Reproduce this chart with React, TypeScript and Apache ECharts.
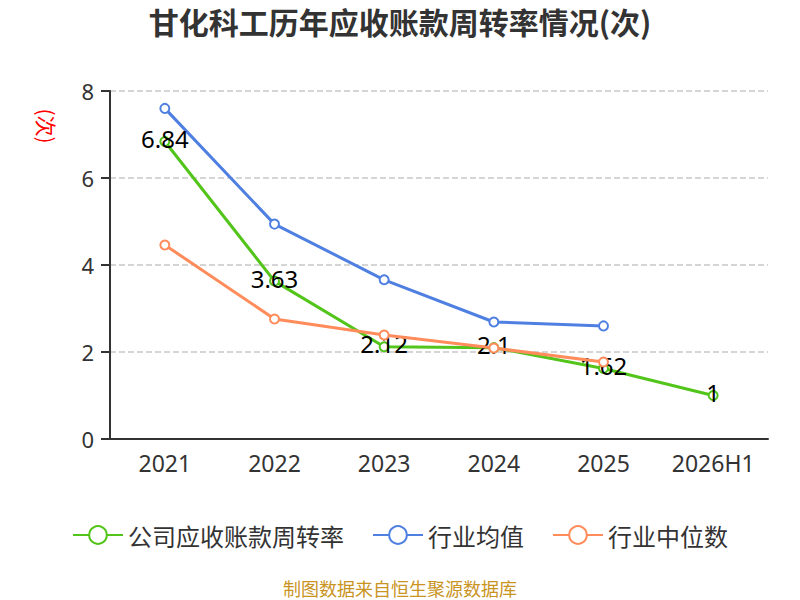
import React, { useEffect, useRef } from "react";
import * as echarts from "echarts";

const categories = ["2021", "2022", "2023", "2024", "2025", "2026H1"];
const companyValues = [6.84, 3.63, 2.12, 2.1, 1.62, 1];
const industryAvg = [7.6, 4.94, 3.66, 2.69, 2.6, null];
const industryMedian = [4.46, 2.76, 2.39, 2.09, 1.77, null];
const seriesNames = ["公司应收账款周转率", "行业均值", "行业中位数"];
const yTicks = { min: 0, max: 8, interval: 2 };

export default function App() {
  const ref = useRef<HTMLDivElement>(null);
  useEffect(() => {
    document.body.style.margin = "0";
    const chart = echarts.init(ref.current!, undefined, { renderer: "svg" });
    const colors = ["#52c41a", "#4f80e1", "#ff8c5a"];
    chart.setOption({
      animation: false,
      color: colors,
      title: {
        text: "甘化科工历年应收账款周转率情况(次)",
        left: "center",
        top: 1,
        textStyle: { fontSize: 30, fontWeight: "bold", color: "#333", fontFamily: "Noto Sans CJK SC" },
      },
      grid: { left: 110, right: 32, top: 91, bottom: 161, containLabel: false },
      legend: {
        top: 518,
        left: "center",
        itemWidth: 50,
        itemHeight: 22,
        itemGap: 28,
        textStyle: { fontSize: 24, color: "#333", fontFamily: "Noto Sans CJK SC" },
        data: seriesNames,
      },
      xAxis: {
        type: "category",
        data: categories,
        axisLine: { lineStyle: { color: "#333", width: 2 } },
        axisTick: { lineStyle: { color: "#333", width: 2 }, length: 9 },
        axisLabel: { fontSize: 23, color: "#333", margin: 12, fontFamily: "Noto Sans" },
      },
      yAxis: {
        type: "value",
        min: yTicks.min,
        max: yTicks.max,
        interval: yTicks.interval,
        axisLine: { show: true, lineStyle: { color: "#333", width: 2 } },
        axisTick: { show: true, lineStyle: { color: "#333", width: 2 }, length: 9 },
        axisLabel: { fontSize: 22, color: "#333", margin: 16, fontFamily: "Noto Sans" },
        splitLine: { lineStyle: { type: "dashed", color: "#c8c8c8", width: 1.5 } },
      },
      graphic: [
        {
          type: "text",
          x: 47,
          y: 126,
          rotation: -Math.PI / 2,
          style: {
            text: "(次)",
            fill: "#ff0000",
            fontSize: 21,
            align: "center",
            verticalAlign: "middle",
            fontFamily: "Noto Sans CJK SC",
          },
        },
        {
          type: "text",
          x: 400,
          y: 579,
          style: {
            text: "制图数据来自恒生聚源数据库",
            fill: "#c9941f",
            fontSize: 18,
            align: "center",
            verticalAlign: "top",
            fontFamily: "Noto Sans CJK SC",
          },
        },
      ],
      series: [
        {
          name: seriesNames[0],
          type: "line",
          data: companyValues,
          symbol: "emptyCircle",
          symbolSize: 9,
          lineStyle: { width: 3 },
          label: {
            show: true,
            position: "inside",
            offset: [0, -3],
            color: "#000",
            fontSize: 24,
            fontFamily: "Noto Sans",
          },
          z: 3,
        },
        {
          name: seriesNames[1],
          type: "line",
          data: industryAvg,
          symbol: "emptyCircle",
          symbolSize: 9,
          lineStyle: { width: 3 },
          z: 2,
        },
        {
          name: seriesNames[2],
          type: "line",
          data: industryMedian,
          symbol: "emptyCircle",
          symbolSize: 9,
          lineStyle: { width: 3 },
          z: 4,
        },
      ],
    });
    return () => chart.dispose();
  }, []);
  return <div ref={ref} style={{ width: 800, height: 600 }} />;
}
